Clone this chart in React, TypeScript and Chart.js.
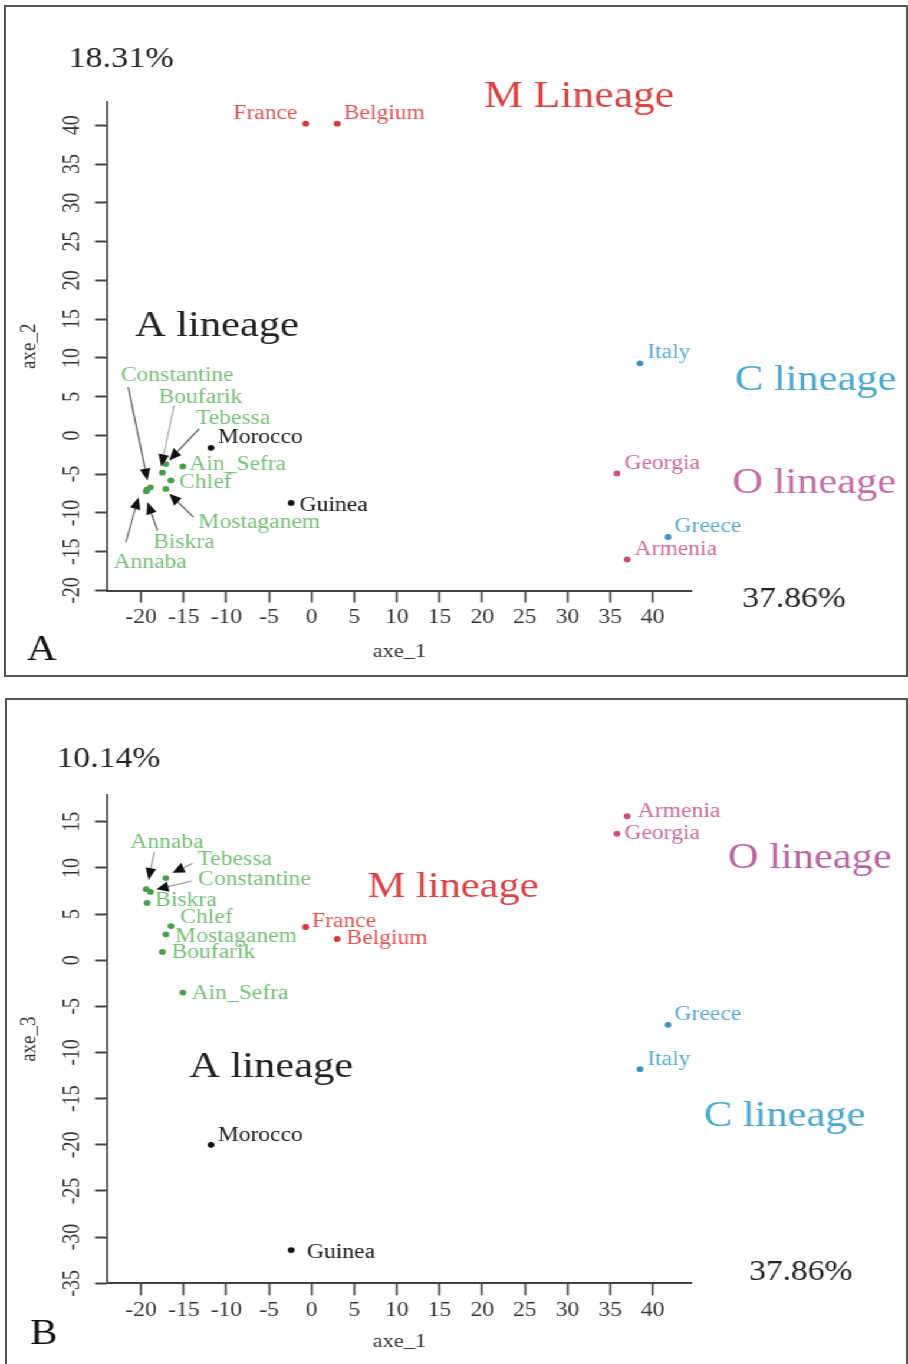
import React, { useEffect, useRef } from 'react';
import { Chart, registerables } from 'chart.js';
Chart.register(...registerables);

// The original figure is stretched horizontally; render narrower and stretch with CSS.
const CW = 770;
const S = 908 / CW;
const FAMILY = "'Liberation Serif', 'Times New Roman', serif";

// ---------- data ----------
const populations = ['France', 'Belgium', 'Morocco', 'Guinea', 'Italy', 'Greece', 'Georgia', 'Armenia',
  'Constantine', 'Boufarik', 'Tebessa', 'Ain_Sefra', 'Chlef', 'Mostaganem', 'Biskra', 'Annaba'];
const groups = ['M', 'M', 'A', 'A', 'C', 'C', 'O', 'O',
  'Alg', 'Alg', 'Alg', 'Alg', 'Alg', 'Alg', 'Alg', 'Alg'];
const axe1 = [-0.7, 3.0, -11.8, -2.4, 38.5, 41.8, 35.8, 37.0, -18.9, -17.5, -17.1, -15.1, -16.5, -17.1, -19.3, -19.4];
const axe2 = [40.2, 40.2, -1.6, -8.7, 9.3, -13.1, -4.9, -16.0, -6.7, -4.8, -3.7, -4.0, -5.8, -6.9, -7.0, -7.2];
const axe3 = [3.6, 2.3, -20.0, -31.4, -11.8, -7.0, 13.7, 15.6, 7.4, 0.9, 8.9, -3.5, 3.7, 2.8, 6.2, 7.7];
const xTicks = [-20, -15, -10, -5, 0, 5, 10, 15, 20, 25, 30, 35, 40];
const yTicksA = [-20, -15, -10, -5, 0, 5, 10, 15, 20, 25, 30, 35, 40];
const yTicksB = [-35, -30, -25, -20, -15, -10, -5, 0, 5, 10, 15];
const groupOrder = ['Alg', 'A', 'M', 'C', 'O'];

// ---------- styles ----------
const groupStyle: Record<string, { point: string; label: string }> = {
  Alg: { point: '#4a9e4a', label: '#78bf78' },
  A: { point: '#111111', label: '#1a1a1a' },
  M: { point: '#d63a3a', label: '#dc5656' },
  C: { point: '#3a93c2', label: '#5aaad0' },
  O: { point: '#c94c82', label: '#cb6a9c' },
};

// label offsets from point (page px): [dx, dy(baseline), align]
const labelsA: Record<string, any[]> = {
  France: [-8.3, -4.4, 'right'], Belgium: [6.5, -4.4], Morocco: [6.7, -4.7], Guinea: [8.4, 8.3],
  Italy: [7.3, -4.9], Georgia: [7.5, -4.7], Greece: [6.5, -4.8], Armenia: [7.3, -4.7],
  Ain_Sefra: [6.4, 4], Chlef: [8.3, 7.3], Constantine: [-29.6, -106.2], Boufarik: [-3.9, -69.9],
  Tebessa: [30.1, -39.7], Mostaganem: [32.7, 38.8], Biskra: [6.1, 58], Annaba: [-32.7, 76.5],
};
const arrowsA: Record<string, any[]> = {
  Constantine: [-22.3, -100.2, -3, -6.9, '#555'],
  Boufarik: [11.8, -67.2, -1.2, -6.2, '#aaa'],
  Tebessa: [33.4, -35.4, 3.4, -3.7, '#555'],
  Mostaganem: [27.7, 28.2, 3.4, 4.8, '#555'],
  Biskra: [10.4, 40.8, 0.4, 12.5, '#555'],
  Annaba: [-20.3, 50.9, -7.7, 5.9, '#666'],
};
const labelsB: Record<string, any[]> = {
  Annaba: [-16, -41.4], Tebessa: [31.7, -13], Constantine: [47.7, -6.9], Biskra: [8.1, 3.1],
  Chlef: [9.3, -2.7], Mostaganem: [9.4, 7.3], Boufarik: [9.1, 6.4], Ain_Sefra: [8.7, 6.8],
  France: [6.3, -0.2], Belgium: [9.2, 5.4], Armenia: [10.6, 1.1], Georgia: [7.5, 5.6],
  Greece: [6.5, -4.8], Italy: [7.3, -4.1], Morocco: [6.7, -4.1], Guinea: [15.7, 8.2],
};
const arrowsB: Record<string, any[]> = {
  Annaba: [8, -37.4, 2.3, -9.1, '#999'],
  Tebessa: [26.7, -14.7, 6.7, -5.3, '#999'],
  Constantine: [41.4, -10.9, 6, -2.6, '#999'],
};

// free texts (page coordinates: left x, baseline y)
const textsA = [
  { text: '18.31%', x: 68.3, y: 66.7, size: 29, color: '#222' },
  { text: 'M Lineage', x: 484, y: 107.3, size: 37, color: '#d84444' },
  { text: 'A lineage', x: 135, y: 335.5, size: 36, color: '#222' },
  { text: 'C lineage', x: 735, y: 390, size: 36, color: '#4ca6cd' },
  { text: 'O lineage', x: 732.3, y: 492.5, size: 36, color: '#c46ca3' },
  { text: '37.86%', x: 742.3, y: 606.7, size: 28.5, color: '#222' },
  { text: 'A', x: 26.7, y: 660, size: 35, color: '#111' },
];
const textsB = [
  { text: '10.14%', x: 56.7, y: 766.7, size: 28.5, color: '#222' },
  { text: 'M lineage', x: 367.7, y: 896.7, size: 36, color: '#d84444' },
  { text: 'O lineage', x: 728, y: 867.5, size: 36, color: '#b964a0' },
  { text: 'C lineage', x: 704, y: 1126, size: 36, color: '#4ca6cd' },
  { text: 'A lineage', x: 189.3, y: 1077.3, size: 36, color: '#222' },
  { text: '37.86%', x: 749, y: 1280, size: 28.5, color: '#222' },
  { text: 'B', x: 30, y: 1344, size: 35, color: '#111' },
];

const panelA = {
  top: 0, height: 690, areaTop: 102, areaBottom: 590.5, yMin: -20, yMax: 43, yTicks: yTicksA,
  yValues: axe2, yTitle: 'axe_2', xTitlePad: 27, labels: labelsA, arrows: arrowsA, texts: textsA,
};
const panelB = {
  top: 690, height: 674, areaTop: 105, areaBottom: 593.3, yMin: -35, yMax: 17.9, yTicks: yTicksB,
  yValues: axe3, yTitle: 'axe_3', xTitlePad: 10.7, labels: labelsB, arrows: arrowsB, texts: textsB,
};

const annotPlugin = {
  id: 'annot',
  afterDatasetsDraw(chart: any, _args: any, opts: any) {
    const ctx = chart.ctx as CanvasRenderingContext2D;
    ctx.save();
    chart.data.datasets.forEach((ds: any, di: number) => {
      const meta = chart.getDatasetMeta(di);
      meta.data.forEach((el: any, j: number) => {
        const name = ds.data[j].name;
        const px = el.x;
        const py = el.y;
        const ar = opts.arrows[name];
        if (ar) {
          const [sx, sy, tx, ty, col] = ar;
          const len = Math.hypot(tx - sx, ty - sy);
          const ux = (tx - sx) / len;
          const uy = (ty - sy) / len;
          const L = 12;
          const W = 5.3;
          const bx = tx - ux * L;
          const by = ty - uy * L;
          const c = (dx: number, dy: number) => [px + dx / S, py + dy];
          ctx.strokeStyle = col;
          ctx.lineWidth = 1.2;
          ctx.beginPath();
          const p0 = c(sx, sy);
          const p1 = c(bx, by);
          ctx.moveTo(p0[0], p0[1]);
          ctx.lineTo(p1[0], p1[1]);
          ctx.stroke();
          const h0 = c(tx, ty);
          const h1 = c(bx - uy * W, by + ux * W);
          const h2 = c(bx + uy * W, by - ux * W);
          ctx.fillStyle = '#111';
          ctx.beginPath();
          ctx.moveTo(h0[0], h0[1]);
          ctx.lineTo(h1[0], h1[1]);
          ctx.lineTo(h2[0], h2[1]);
          ctx.closePath();
          ctx.fill();
        }
        const off = opts.labels[name];
        if (off) {
          ctx.font = `20px ${FAMILY}`;
          ctx.fillStyle = groupStyle[ds.label].label;
          ctx.textAlign = off[2] || 'left';
          ctx.textBaseline = 'alphabetic';
          ctx.fillText(name, px + off[0] / S, py + off[1]);
        }
      });
    });
    opts.texts.forEach((t: any) => {
      ctx.font = `${t.size}px ${FAMILY}`;
      ctx.fillStyle = t.color;
      ctx.textAlign = 'left';
      ctx.textBaseline = 'alphabetic';
      ctx.fillText(t.text, t.x / S, t.y - opts.top);
    });
    ctx.restore();
  },
};

function makeConfig(panel: any): any {
  const datasets = groupOrder.map((g) => ({
    label: g,
    data: populations
      .map((name, i) => ({ x: axe1[i], y: panel.yValues[i], name, g: groups[i] }))
      .filter((d) => d.g === g),
    backgroundColor: groupStyle[g].point,
    pointRadius: 2.9,
    pointBorderWidth: 0,
    borderWidth: 0,
  }));
  const tickFont = { family: FAMILY, size: 20 };
  const titleFont = { family: FAMILY, size: 19 };
  return {
    type: 'scatter',
    data: { datasets },
    plugins: [annotPlugin],
    options: {
      animation: false,
      responsive: true,
      maintainAspectRatio: false,
      events: [],
      layout: { padding: { left: 0, right: (908 - 692) / S, top: panel.areaTop, bottom: 0 } },
      plugins: {
        legend: { display: false },
        tooltip: { enabled: false },
        annot: { labels: panel.labels, arrows: panel.arrows, texts: panel.texts, top: panel.top },
      },
      scales: {
        x: {
          type: 'linear',
          position: 'bottom',
          min: -24,
          max: 44.6,
          afterBuildTicks: (s: any) => { s.ticks = xTicks.map((v) => ({ value: v })); },
          afterFit: (s: any) => { s.height = panel.height - panel.areaBottom; },
          ticks: { font: tickFont, color: '#333', padding: 3.5, minRotation: 0, maxRotation: 0, autoSkip: false },
          grid: { drawOnChartArea: false, drawTicks: true, tickLength: 12, tickWidth: 2 / S, tickColor: '#444' },
          border: { display: true, color: '#444', width: 2 },
          title: { display: true, text: 'axe_1', font: titleFont, color: '#333', padding: { top: 0, bottom: panel.xTitlePad } },
        },
        y: {
          type: 'linear',
          position: 'left',
          min: panel.yMin,
          max: panel.yMax,
          afterBuildTicks: (s: any) => { s.ticks = panel.yTicks.map((v: number) => ({ value: v })); },
          afterFit: (s: any) => { s.width = 107 / S; },
          ticks: { font: tickFont, color: '#333', padding: 5.7, minRotation: 90, maxRotation: 90, crossAlign: 'center', autoSkip: false },
          grid: { drawOnChartArea: false, drawTicks: true, tickLength: 12 / S, tickWidth: 2, tickColor: '#444' },
          border: { display: true, color: '#444', width: 2 / S },
          title: { display: true, text: panel.yTitle, font: titleFont, color: '#333', padding: { top: 14, bottom: 0 } },
        },
      },
    },
  };
}

export default function App() {
  const refA = useRef<HTMLCanvasElement>(null);
  const refB = useRef<HTMLCanvasElement>(null);
  useEffect(() => {
    const a = new Chart(refA.current as HTMLCanvasElement, makeConfig(panelA));
    const b = new Chart(refB.current as HTMLCanvasElement, makeConfig(panelB));
    return () => { a.destroy(); b.destroy(); };
  }, []);
  return (
    <div style={{ position: 'fixed', left: 0, top: 0, width: 908, height: 1364, overflow: 'hidden', background: '#fff' }}>
      <div style={{ position: 'absolute', left: 0, top: 0, width: CW, height: 1364, transform: `scaleX(${S})`, transformOrigin: '0 0' }}>
        <div style={{ position: 'absolute', left: 0, top: 0, width: CW, height: panelA.height }}>
          <canvas ref={refA} />
        </div>
        <div style={{ position: 'absolute', left: 0, top: panelB.top, width: CW, height: panelB.height }}>
          <canvas ref={refB} />
        </div>
      </div>
      <div style={{ position: 'absolute', left: 4, top: 5, width: 904, height: 672, border: '2px solid #555', boxSizing: 'border-box', pointerEvents: 'none' }} />
      <div style={{ position: 'absolute', left: 5, top: 698, width: 903, height: 680, border: '2px solid #555', boxSizing: 'border-box', pointerEvents: 'none' }} />
    </div>
  );
}
